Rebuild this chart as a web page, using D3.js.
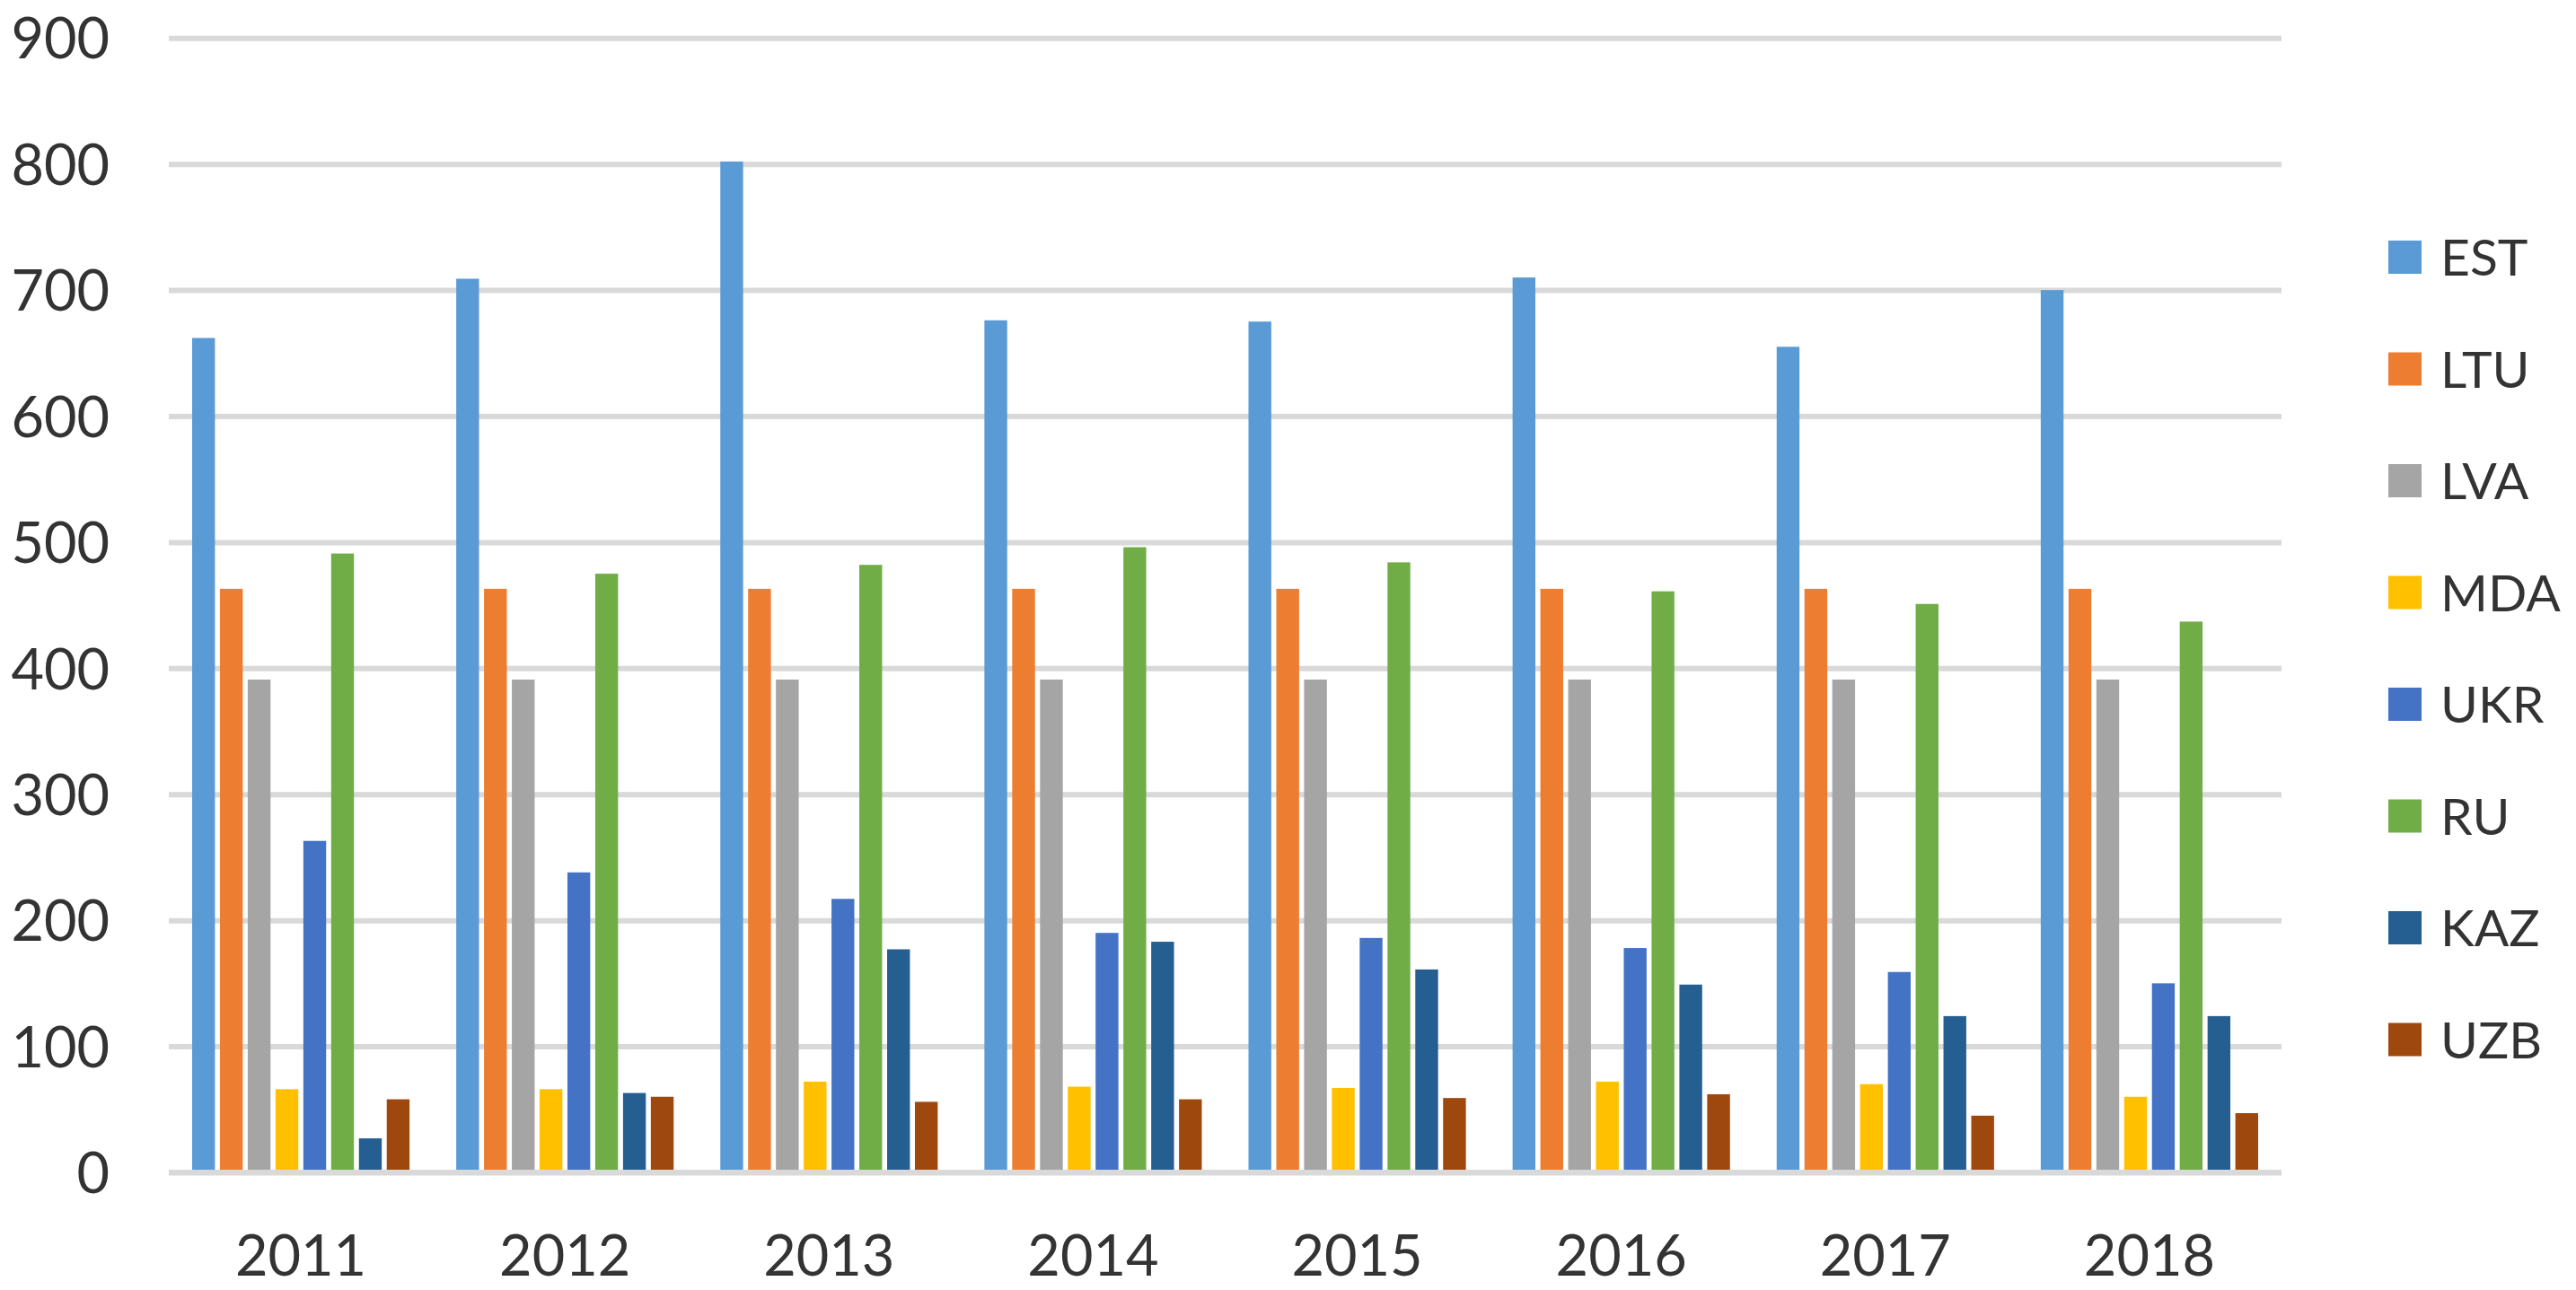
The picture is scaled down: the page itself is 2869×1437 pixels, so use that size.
<!DOCTYPE html>
<html>
<head>
<meta charset="utf-8">
<script src="https://cdn.jsdelivr.net/npm/d3@7/dist/d3.min.js"></script>
<style>
  html, body { margin: 0; padding: 0; background: #ffffff; }
  svg { display: block; }
  text { font-family: Lato, "Open Sans", sans-serif; fill: #333333; }
</style>
</head>
<body>
<svg id="chart" width="2869" height="1437"></svg>
<script>
// ---- data ----
const years = ["2011", "2012", "2013", "2014", "2015", "2016", "2017", "2018"];
const seriesNames = ["EST", "LTU", "LVA", "MDA", "UKR", "RU", "KAZ", "UZB"];
const seriesColors = ["#5B9BD5", "#ED7D31", "#A5A5A5", "#FFC000", "#4472C4", "#70AD47", "#255E91", "#9E480E"];
const EST = [662, 709, 802, 676, 675, 710, 655, 700];
const LTU = [463, 463, 463, 463, 463, 463, 463, 463];
const LVA = [391, 391, 391, 391, 391, 391, 391, 391];
const MDA = [66, 66, 72, 68, 67, 72, 70, 60];
const UKR = [263, 238, 217, 190, 186, 178, 159, 150];
const RU  = [491, 475, 482, 496, 484, 461, 451, 437];
const KAZ = [27, 63, 177, 183, 161, 149, 124, 124];
const UZB = [58, 60, 56, 58, 59, 62, 45, 47];
const yTicks = [0, 100, 200, 300, 400, 500, 600, 700, 800, 900];

const seriesValues = [EST, LTU, LVA, MDA, UKR, RU, KAZ, UZB];
const table = years.map((yr, i) => ({
  year: yr,
  values: seriesNames.map((s, j) => ({ key: s, value: seriesValues[j][i], color: seriesColors[j] }))
}));

// ---- layout ----
const svg = d3.select("#chart");
const plot = { left: 188, right: 2541, top: 42.3, bottom: 1306 };

const x0 = d3.scaleBand().domain(years).range([plot.left, plot.right]).padding(0);
const groupPad = 26;
const x1 = d3.scaleBand().domain(seriesNames)
  .range([groupPad, x0.bandwidth() - groupPad]).paddingInner(0.18).paddingOuter(0);
const y = d3.scaleLinear().domain([0, 900]).range([plot.bottom, plot.top]);

// gridlines
const grid = svg.append("g")
  .attr("transform", `translate(${plot.left},0)`)
  .call(d3.axisLeft(y).tickValues(yTicks).tickSize(-(plot.right - plot.left)).tickFormat(""));
grid.select(".domain").remove();
grid.selectAll(".tick line").attr("stroke", "#D9D9D9").attr("stroke-width", 6);

// bars
const groups = svg.append("g").selectAll("g").data(table).join("g")
  .attr("transform", d => `translate(${x0(d.year)},0)`);
groups.selectAll("rect").data(d => d.values).join("rect")
  .attr("x", d => x1(d.key))
  .attr("width", x1.bandwidth())
  .attr("y", d => y(d.value))
  .attr("height", d => y(0) - 3 - y(d.value))
  .attr("fill", d => d.color);

// baseline on top
svg.append("line")
  .attr("x1", plot.left).attr("x2", plot.right)
  .attr("y1", y(0)).attr("y2", y(0))
  .attr("stroke", "#D9D9D9").attr("stroke-width", 6);

// y axis labels
const yAxis = svg.append("g")
  .attr("transform", `translate(122,0)`)
  .call(d3.axisLeft(y).tickValues(yTicks).tickSize(0).tickPadding(0));
yAxis.select(".domain").remove();
yAxis.selectAll("text")
  .attr("font-size", 63).attr("fill", "#333333")
  .attr("font-family", "Lato, 'Open Sans', sans-serif")
  .attr("dy", "0.36em");

// x axis labels
const xAxis = svg.append("g")
  .attr("transform", `translate(0,1421)`)
  .call(d3.axisBottom(x0).tickSize(0).tickPadding(0));
xAxis.select(".domain").remove();
xAxis.selectAll("text")
  .attr("font-size", 63).attr("fill", "#333333")
  .attr("font-family", "Lato, 'Open Sans', sans-serif")
  .attr("dy", "0");

// legend
const legend = svg.append("g").selectAll("g").data(seriesNames).join("g")
  .attr("transform", (d, i) => `translate(2660, ${286.5 + i * 124.5})`);
legend.append("rect")
  .attr("x", 0).attr("y", -18.5).attr("width", 37).attr("height", 37)
  .attr("fill", (d, i) => seriesColors[i]);
legend.append("text")
  .attr("x", 58).attr("y", 0).attr("dy", "0.36em")
  .attr("font-size", 57)
  .text(d => d);
</script>
</body>
</html>
